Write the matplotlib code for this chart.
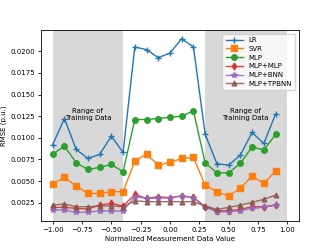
import matplotlib
matplotlib.use('Agg')
import matplotlib.pyplot as plt
import numpy as np

# normalized measurement value (x axis)
x_vals = np.round(np.arange(-1.0, 0.95, 0.1), 1)

lr = [0.00923, 0.01223, 0.00866, 0.00762, 0.00808, 0.01019, 0.00831,
      0.0205, 0.0202, 0.01927, 0.0198, 0.02146, 0.0205,
      0.01042, 0.0070, 0.00685, 0.0080, 0.01062, 0.00935, 0.01273]
svr = [0.00465, 0.00543, 0.00442, 0.00358, 0.00358, 0.00377, 0.00377,
       0.00731, 0.00812, 0.00685, 0.00716, 0.00762, 0.00773,
       0.00454, 0.00377, 0.00327, 0.00416, 0.00558, 0.00473, 0.00615]
mlp = [0.00812, 0.00904, 0.00711, 0.00635, 0.00658, 0.00693, 0.00607,
       0.01212, 0.01212, 0.01223, 0.01238, 0.0125, 0.01311,
       0.00711, 0.00596, 0.00596, 0.00704, 0.00896, 0.00858, 0.01039]
mlp_mlp = [0.00196, 0.00196, 0.00185, 0.00177, 0.00223, 0.00242, 0.00212,
           0.00346, 0.0030, 0.00319, 0.00308, 0.00327, 0.00312,
           0.00204, 0.00158, 0.00158, 0.00173, 0.00204, 0.00204, 0.00223]
mlp_bnn = [0.00165, 0.00165, 0.00139, 0.00139, 0.00158, 0.00154, 0.00154,
           0.00319, 0.0030, 0.0030, 0.00308, 0.00327, 0.00308,
           0.0020, 0.00146, 0.00146, 0.00158, 0.00185, 0.00196, 0.00223]
mlp_tpbnn = [0.00223, 0.00235, 0.00204, 0.00204, 0.00212, 0.00212, 0.00204,
             0.00273, 0.00262, 0.00262, 0.00262, 0.00262, 0.00262,
             0.00212, 0.00173, 0.00196, 0.00223, 0.00254, 0.00289, 0.00338]

train_ranges = [(-1.0, -0.4), (0.3, 1.0)]

fig = plt.figure(figsize=(3.32, 2.49), dpi=100)
ax = fig.add_axes([0.1235, 0.1124, 0.777, 0.767])

for lo, hi in train_ranges:
    ax.axvspan(lo, hi, color='#d8d8d8', zorder=0, lw=0)

ax.plot(x_vals, lr, '-+', color='tab:blue', lw=1, ms=4, label='LR')
ax.plot(x_vals, svr, '-s', color='tab:orange', lw=1, ms=4, label='SVR')
ax.plot(x_vals, mlp, '-o', color='tab:green', lw=1, ms=4, label='MLP')
ax.plot(x_vals, mlp_mlp, '-d', color='tab:red', lw=1, ms=3.5, alpha=0.85, label='MLP+MLP')
ax.plot(x_vals, mlp_bnn, '-*', color='tab:purple', lw=1, ms=4, alpha=0.85, label='MLP+BNN')
ax.plot(x_vals, mlp_tpbnn, '-^', color='tab:brown', lw=1, ms=3.5, alpha=0.85, label='MLP+TPBNN')

ax.text(-0.7, 0.0127, 'Range of\nTraining Data', ha='center', va='center', fontsize=5)
ax.text(0.64, 0.0127, 'Range of\nTraining Data', ha='center', va='center', fontsize=5)

ax.set_xlabel('Normalized Measurement Data Value', fontsize=5, labelpad=2)
ax.set_ylabel('RMSE (p.u.)', fontsize=5, labelpad=2)
ax.tick_params(labelsize=5, length=2.5, width=0.6, pad=2)
for s in ax.spines.values():
    s.set_linewidth(0.6)

ax.legend(loc='upper right', fontsize=5, framealpha=0.8, handlelength=2.5,
          borderpad=0.5, labelspacing=0.4)

fig.savefig('out.png', dpi=100)
